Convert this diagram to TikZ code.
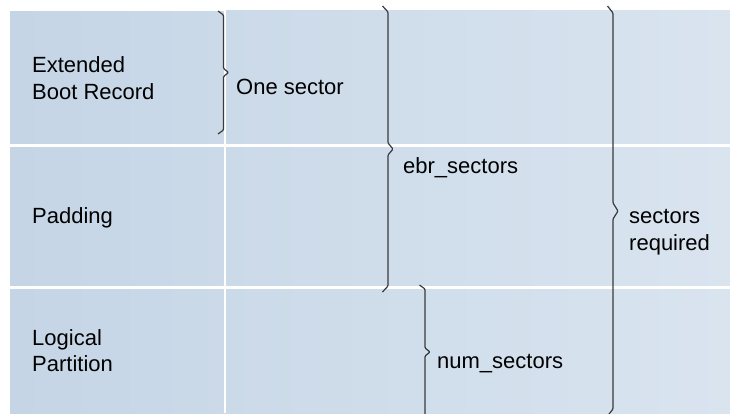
\documentclass[tikz,border=0pt]{standalone}
\usepackage{fontspec}
\setmainfont{Liberation Sans}
\definecolor{bgleft}{HTML}{C5D5E6}
\definecolor{bgright}{HTML}{D9E4EF}
\definecolor{bracecol}{HTML}{3A3A3A}
\tikzset{
  lbl/.style={anchor=base west, inner sep=0pt, align=left, text=black,
    font=\fontsize{22}{26.3}\selectfont},
  bracepath/.style={draw=bracecol, line width=1.2pt, rounded corners=1pt},
}
% right brace: x, top, bottom, tip half-height, hook dy
\newcommand\mybrace[5]{%
  \pgfmathsetmacro\bmid{(#2+#3)/2}%
  \draw[bracepath] (#1-5.5,#2) -- (#1,#2+#5) -- (#1,\bmid-#4) -- (#1+5,\bmid)
    -- (#1,\bmid+#4) -- (#1,#3-#5) -- (#1-5.5,#3);}
\begin{document}
\begin{tikzpicture}[x=1pt,y=-1pt]
\useasboundingbox (0,0) rectangle (730,413);
\shade[left color=bgleft, right color=bgright] (10,10) rectangle (730,413);
\fill[white] (10,144) rectangle (730,147);
\fill[white] (10,286) rectangle (730,289);
\fill[white] (224.3,10) rectangle (225.8,413);
\fill[white] (10,10) rectangle (224.3,11);
% labels (base = baseline of last line)
\node[lbl] (ebr) at (32,99) {Extended\\Boot Record};
\node[lbl] (pad) at (32,223) {Padding};
\node[lbl] (lp) at (32,371.7) {Logical\\Partition};
\node[lbl] (one) at (236,94) {One sector};
\node[lbl] (ebrs) at (403,173) {ebr\_sectors};
\node[lbl] (req) at (629,250) {sectors\\required};
\node[lbl] (num) at (437,368) {num\_sectors};
% braces
\mybrace{223.5}{11}{134}{4}{4}
\mybrace{388}{6}{292}{6}{6}
\mybrace{613}{6}{416}{8}{7}
\mybrace{425}{285}{419}{4}{4}
\end{tikzpicture}
\end{document}
